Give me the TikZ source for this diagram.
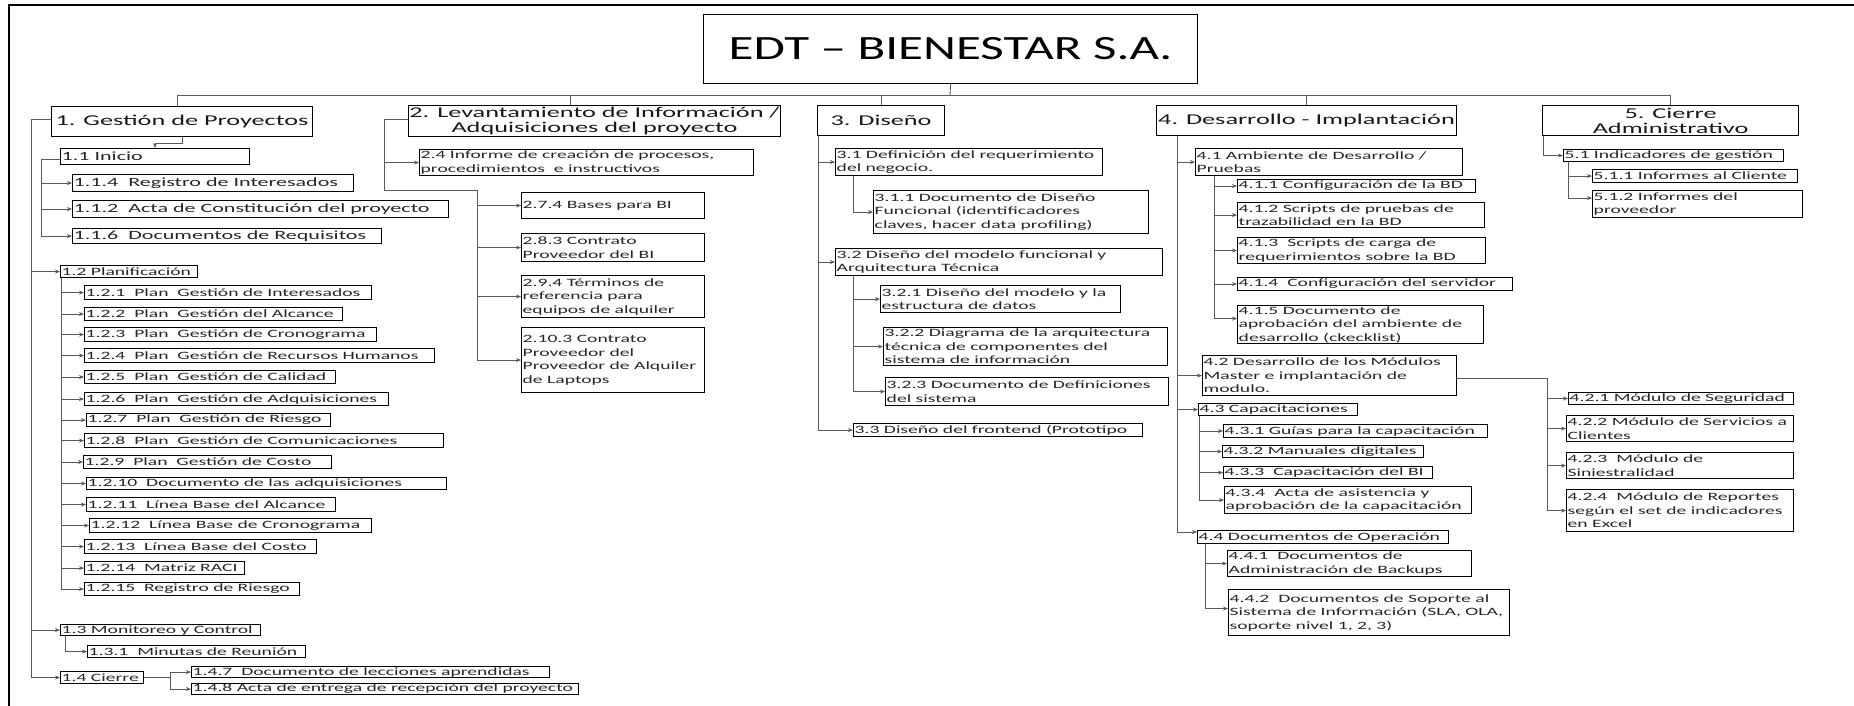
\documentclass[tikz,border=0pt]{standalone}
\usepackage{fontspec}
\setmainfont{Carlito}[FakeStretch=1.75]
\newfontfamily\titlefont{Carlito}[FakeStretch=1.5]
\usetikzlibrary{arrows.meta}
\newcommand\bx[7][]{%
  \pgfmathsetmacro\bw{#5-#3}\pgfmathsetmacro\bh{#6-#4}%
  \node[sbox,minimum width=\bw pt,minimum height=\bh pt,anchor=north west,
        label={[lbl,#1]west:{#7}}] (#2) at (#3,#4) {};}
\newcommand\mb[6]{%
  \pgfmathsetmacro\bw{#4-#2}\pgfmathsetmacro\bh{#5-#3}%
  \node[mbox,minimum width=\bw pt,minimum height=\bh pt,anchor=north west] (#1) at (#2,#3) {#6};}
\begin{document}
\begin{tikzpicture}[x=1pt,y=-1pt,
  sbox/.style={draw=black, line width=1.1pt, inner sep=0pt},
  lbl/.style={anchor=west, align=left, inner xsep=1.5pt, inner ysep=0pt, text=black!85,
              font=\fontsize{11.2}{13.5}\selectfont},
  ifont/.style={font=\fontsize{12.6}{14}\selectfont},
  mbox/.style={draw=black, line width=1.1pt, inner sep=0pt, align=center, text=black!90,
               font=\fontsize{15}{15}\selectfont},
  line/.style={draw=black!65, line width=0.9pt},
  arr/.style={line, -{Stealth[length=5pt,width=4pt]}},
]
\useasboundingbox (0,0) rectangle (1854,706);
\draw[line width=2.2pt] (9,706) -- (9,5) -- (1854,5);

% title
\node[mbox, font=\titlefont\fontsize{34}{36}\selectfont, text=black, minimum width=494pt, minimum height=69pt,
      anchor=north west] (title) at (703,14) {EDT \textendash\ BIENESTAR S.A.};

% level 1
\mb{b1}{51}{106}{312}{136}{1. Gestión de Proyectos}
\mb{b2}{408}{105}{780}{136}{2. Levantamiento de Información /\\Adquisiciones del proyecto}
\mb{b3}{817}{105}{944}{135}{3. Diseño}
\mb{b4}{1156}{105}{1456}{135}{4. Desarrollo - Implantación}
\mb{b5}{1542}{105}{1798}{135}{5. Cierre\\Administrativo}

\coordinate (bus) at (950,95);
\draw[line] (title.south) -- (bus);
\draw[line] (bus) -| ([xshift=-5pt]b1.north);
\draw[line] (bus) -| ([xshift=-24pt]b2.north);
\draw[line] (bus) -| (b3.north);
\draw[line] (bus) -| (b4.north);
\draw[line] (bus) -| (b5.north);

% column 1
\bx[ifont]{b11}{60}{148}{249}{164}{1.1 Inicio}
\bx[ifont]{b114}{72}{174}{353}{191}{1.1.4\ \ Registro de Interesados}
\bx[ifont]{b112}{72}{200}{448}{217}{1.1.2\ \ Acta de Constitución del proyecto}
\bx[ifont]{b116}{72}{228}{381}{243}{1.1.6\ \ Documentos de Requisitos}
\bx{b12}{60}{265}{197}{277}{1.2 Planificación}
\bx{b121}{84}{285}{371}{299}{1.2.1\ \ Plan\ \ Gestión de Interesados}
\bx{b122}{84}{307}{342}{320}{1.2.2\ \ Plan\ \ Gestión del Alcance}
\bx{b123}{84}{327}{376}{341}{1.2.3\ \ Plan\ \ Gestión de Cronograma}
\bx{b124}{84}{348}{434}{362}{1.2.4\ \ Plan\ \ Gestión de Recursos Humanos}
\bx{b125}{84}{370}{335}{383}{1.2.5\ \ Plan\ \ Gestión de Calidad}
\bx{b126}{84}{392}{388}{405}{1.2.6\ \ Plan\ \ Gestión de Adquisiciones}
\bx{b127}{86}{413}{330}{426}{1.2.7\ \ Plan\ \ Gestión de Riesgo}
\bx{b128}{84}{433}{443}{447}{1.2.8\ \ Plan\ \ Gestión de Comunicaciones}
\bx{b129}{83}{455}{331}{468}{1.2.9\ \ Plan\ \ Gestión de Costo}
\bx{b1210}{86}{477}{446}{489}{1.2.10\ \ Documento de las adquisiciones}
\bx{b1211}{86}{497}{335}{511}{1.2.11\ \ Línea Base del Alcance}
\bx{b1212}{89}{518}{371}{532}{1.2.12\ \ Línea Base de Cronograma}
\bx{b1213}{84}{539}{316}{553}{1.2.13\ \ Línea Base del Costo}
\bx{b1214}{84}{561}{244}{574}{1.2.14\ \ Matriz RACI}
\bx{b1215}{84}{582}{299}{595}{1.2.15\ \ Registro de Riesgo}
\bx{b13}{60}{624}{260}{635}{1.3 Monitoreo y Control}
\bx{b131}{87}{645}{305}{657}{1.3.1\ \ Minutas de Reunión}
\bx{b14}{60}{671}{143}{683}{1.4 Cierre}
\bx{b147}{191}{666}{549}{677}{1.4.7\ \ Documento de lecciones aprendidas}
\bx{b148}{191}{683}{578}{694}{1.4.8 Acta de entrega de recepción del proyecto}

\coordinate (L1) at (31,0);
\draw[arr] ([yshift=2pt]b1.west) -| (L1 |- b14.west) -- (b14.west);
\draw[arr] (L1 |- b12.west) -- (b12.west);
\draw[arr] (L1 |- b13.west) -- (b13.west);
\draw[arr] (b1.south) -- ++(0,6) -| ([xshift=95pt]b11.north west);
\coordinate (L11) at (41,0);
\draw[arr] ([yshift=-3pt]b11.west) -| (L11 |- b116.west) -- (b116.west);
\draw[arr] (L11 |- b114.west) -- (b114.west);
\draw[arr] (L11 |- b112.west) -- (b112.west);
\coordinate (L12) at ([xshift=1pt]b12.south west);
\draw[arr] (L12) |- (b1215.west);
\foreach \n in {121,122,123,124,125,126,127,128,129,1210,1211,1212,1213,1214}
  \draw[arr] (L12 |- b\n.west) -- (b\n.west);
\draw[arr] ([xshift=5pt]b13.south west) |- (b131.west);
\coordinate (L14) at (170,0);
\draw[line] (b14.east) -- (L14 |- b14.east);
\draw[arr] (L14 |- b14.east) |- (b147.west);
\draw[arr] (L14 |- b14.east) |- (b148.west);

% column 2
\bx{b24}{419}{149}{753}{175}{2.4 Informe de creación de procesos,\\procedimientos\ \ e instructivos}
\bx{b274}{521}{192}{704}{218}{2.7.4 Bases para BI}
\bx{b283}{521}{233}{704}{261}{2.8.3 Contrato\\Proveedor del BI}
\bx{b294}{521}{275}{704}{317}{2.9.4 Términos de\\referencia para\\equipos de alquiler}
\bx{b2103}{521}{327}{704}{392}{2.10.3 Contrato\\Proveedor del\\Proveedor de Alquiler\\de Laptops}
\coordinate (J2) at (384,190);
\coordinate (K2) at (477,190);
\draw[line] ([yshift=2pt]b2.west) -| (J2) -- (K2);
\draw[arr] (J2 |- b24.west) -- (b24.west);
\draw[arr] (K2) |- (b2103.west);
\foreach \n in {274,283,294}
  \draw[arr] (K2 |- b\n.west) -- (b\n.west);

% column 3
\bx{b31}{835}{148}{1102}{175}{3.1 Definición del requerimiento\\del negocio.}
\bx{b311}{873}{190}{1148}{233}{3.1.1 Documento de Diseño\\Funcional (identificadores\\claves, hacer data profiling)}
\bx{b32}{835}{248}{1162}{275}{3.2 Diseño del modelo funcional y\\Arquitectura Técnica}
\bx{b321}{880}{285}{1120}{312}{3.2.1 Diseño del modelo y la\\estructura de datos}
\bx{b322}{883}{327}{1167}{365}{3.2.2 Diagrama de la arquitectura\\técnica de componentes del\\sistema de información}
\bx{b323}{885}{377}{1168}{405}{3.2.3 Documento de Definiciones\\del sistema}
\bx{b33}{853}{423}{1142}{436}{3.3 Diseño del frontend (Prototipo}
\coordinate (L3) at ([xshift=1pt]b3.south west);
\draw[arr] (L3) |- (b33.west);
\draw[arr] (L3 |- b31.west) -- (b31.west);
\draw[arr] (L3 |- b32.west) -- (b32.west);
\draw[arr] ([xshift=18pt]b31.south west) |- (b311.west);
\coordinate (L32) at ([xshift=18pt]b32.south west);
\draw[arr] (L32) |- (b323.west);
\draw[arr] (L32 |- b321.west) -- (b321.west);
\draw[arr] (L32 |- b322.west) -- (b322.west);

% column 4
\bx{b41}{1195}{148}{1462}{175}{4.1 Ambiente de Desarrollo /\\Pruebas}
\bx{b411}{1237}{179}{1475}{192}{4.1.1 Configuración de la BD}
\bx{b412}{1237}{202}{1484}{227}{4.1.2 Scripts de pruebas de\\trazabilidad en la BD}
\bx{b413}{1237}{237}{1485}{263}{4.1.3\ \ Scripts de carga de\\requerimientos sobre la BD}
\bx{b414}{1237}{277}{1512}{290}{4.1.4\ \ Configuración del servidor}
\bx{b415}{1237}{305}{1483}{343}{4.1.5 Documento de\\aprobación del ambiente de\\desarrollo (ckecklist)}
\bx{b42}{1202}{355}{1456}{395}{4.2 Desarrollo de los Módulos\\Master e implantación de\\modulo.}
\bx{b43}{1198}{403}{1357}{415}{4.3 Capacitaciones}
\bx{b431}{1223}{424}{1487}{437}{4.3.1 Guías para la capacitación}
\bx{b432}{1222}{445}{1423}{457}{4.3.2 Manuales digitales}
\bx{b433}{1223}{466}{1432}{478}{4.3.3\ \ Capacitación del BI}
\bx{b434}{1224}{486}{1471}{513}{4.3.4\ \ Acta de asistencia y\\aprobación de la capacitación}
\bx{b44}{1197}{530}{1448}{543}{4.4 Documentos de Operación}
\bx{b441}{1227}{550}{1471}{576}{4.4.1\ \ Documentos de\\Administración de Backups}
\bx{b442}{1228}{589}{1509}{635}{4.4.2\ \ Documentos de Soporte al\\Sistema de Información (SLA, OLA,\\soporte nivel 1, 2, 3)}
\bx{b421}{1568}{392}{1793}{404}{4.2.1 Módulo de Seguridad}
\bx{b422}{1566}{415}{1793}{441}{4.2.2 Módulo de Servicios a\\Clientes}
\bx{b423}{1566}{452}{1793}{478}{4.2.3\ \ Módulo de\\Siniestralidad}
\bx{b424}{1566}{489}{1793}{531}{4.2.4\ \ Módulo de Reportes\\según el set de indicadores\\en Excel}
\coordinate (L4) at ([xshift=21pt]b4.south west);
\draw[arr] (L4) |- ([yshift=5pt]b44.west);
\foreach \n in {41,42,43}
  \draw[arr] (L4 |- b\n.west) -- (b\n.west);
\coordinate (L41) at ([xshift=19pt]b41.south west);
\draw[arr] (L41) |- ([yshift=6pt]b415.west);
\foreach \n in {411,412,413,414}
  \draw[arr] (L41 |- b\n.west) -- (b\n.west);
\coordinate (L43) at ([xshift=1pt]b43.south west);
\draw[arr] (L43) |- (b434.west);
\foreach \n in {431,432,433}
  \draw[arr] (L43 |- b\n.west) -- (b\n.west);
\coordinate (L44) at ([xshift=8pt]b44.south west);
\draw[arr] (L44) |- ([yshift=4pt]b442.west);
\draw[arr] (L44 |- b441.west) -- (b441.west);
\coordinate (R42) at (1547,0);
\draw[arr] ([yshift=-3pt]b42.east) -| (R42 |- b424.west) -- (b424.west);
\foreach \n in {421,422,423}
  \draw[arr] (R42 |- b\n.west) -- (b\n.west);

% column 5
\bx{b51}{1563}{149}{1783}{161}{5.1 Indicadores de gestión}
\bx{b511}{1592}{169}{1797}{182}{5.1.1 Informes al Cliente}
\bx{b512}{1592}{190}{1802}{217}{5.1.2 Informes del\\proveedor}
\draw[arr] ([xshift=1pt]b5.south west) |- (b51.west);
\coordinate (L51) at ([xshift=5pt]b51.south west);
\draw[arr] (L51) |- ([yshift=6pt]b512.west);
\draw[arr] (L51 |- b511.west) -- (b511.west);
\end{tikzpicture}
\end{document}
